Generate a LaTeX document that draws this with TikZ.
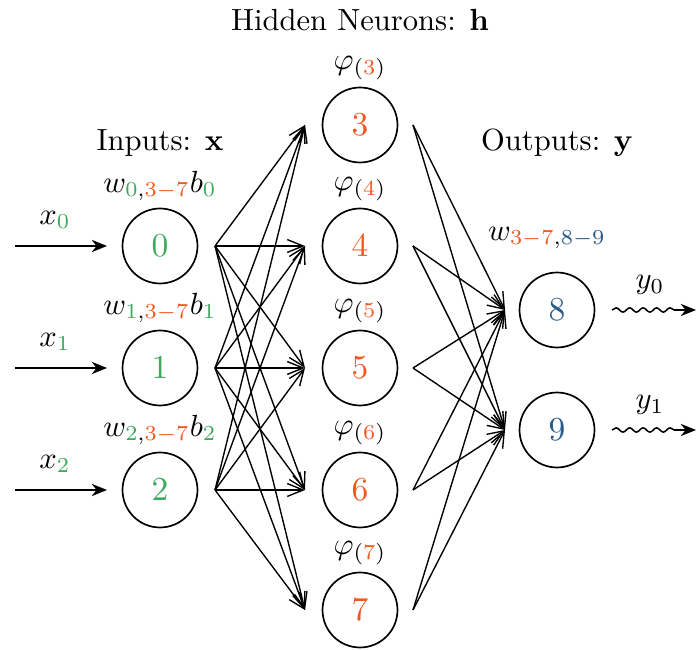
\documentclass[tikz,border=0pt]{standalone}
\usetikzlibrary{arrows.meta,decorations.pathmorphing}
\definecolor{cgreen}{RGB}{58,170,92}
\definecolor{corange}{RGB}{240,90,34}
\definecolor{cblue}{RGB}{42,90,138}
\begin{document}
\begin{tikzpicture}[x=0.3268pt,y=-0.3268pt,
  neuron/.style={circle,draw,line width=0.55pt,minimum size=24.5pt,inner sep=0pt,font=\fontsize{10.5}{12}\selectfont},
  conn/.style={line width=0.45pt,-{Straight Barb[length=5.2pt,width=4.2pt]}},
  inarrow/.style={line width=0.5pt,-{Stealth[length=5pt,width=4pt]}},
  outarrow/.style={line width=0.5pt,-{Stealth[length=5pt,width=4pt]},
    decorate,decoration={snake,amplitude=0.7pt,segment length=4.4pt,post length=5pt}},
  lbl/.style={inner sep=0pt}]
\useasboundingbox (0,0) rectangle (696,650);
% titles
\node[lbl] (th) at (360,20) {Hidden Neurons: $\mathbf{h}$};
\node[lbl] (ti) at (160,143) {Inputs: $\mathbf{x}$};
\node[lbl] (to) at (557,143) {Outputs: $\mathbf{y}$};
% input neurons
\foreach \i/\y in {0/246,1/368,2/490}{
  \node[neuron,text=cgreen] (i\i) at (160,\y) {$\i$};
  \coordinate (is\i) at (15,\y);
  \coordinate (ie\i) at (107,\y);
  \coordinate (io\i) at (215,\y);
  \draw[inarrow] (is\i) -- (ie\i);
  \node[lbl] (xl\i) at (55,\y-26) {$x_{\color{cgreen}\i}$};
  \node[lbl] (wl\i) at (160,\y-60) {$w_{{\color{cgreen}\i},{\color{corange}3-7}}b_{\color{cgreen}\i}$};
}
% hidden neurons
\foreach \h/\y in {3/125,4/246,5/368,6/490,7/610}{
  \node[neuron,text=corange] (h\h) at (360,\y) {$\h$};
  \coordinate (hi\h) at (305,\y);
  \coordinate (ho\h) at (413,\y);
  \node[lbl] (pl\h) at (360,\y-57) {$\varphi_{({\color{corange}\h})}$};
}
% output neurons
\foreach \o/\y/\k in {8/310/0,9/430/1}{
  \node[neuron,text=cblue] (o\o) at (557,\y) {$\o$};
  \coordinate (oi\o) at (505,\y);
  \coordinate (oo\o) at (612,\y);
  \coordinate (oe\o) at (696,\y);
  \draw[outarrow] (oo\o) -- (oe\o);
  \node[lbl] (yl\o) at (650,\y-25) {$y_{\k}$};
}
\node[lbl] (wo) at (547,238) {$w_{{\color{corange}3-7},{\color{cblue}8-9}}$};
% connections
\foreach \i in {0,1,2}{
  \foreach \h in {3,...,7}{
    \draw[conn] (io\i) -- (hi\h);
  }
}
\foreach \h in {3,...,7}{
  \foreach \o in {8,9}{
    \draw[conn] (ho\h) -- (oi\o);
  }
}
\end{tikzpicture}
\end{document}
